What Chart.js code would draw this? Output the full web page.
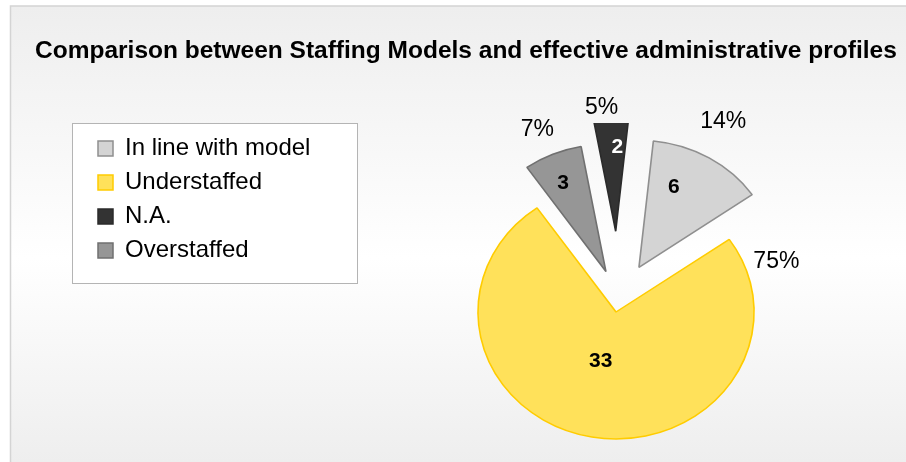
<!DOCTYPE html>
<html>
<head>
<meta charset="utf-8">
<title>Staffing Models</title>
<script src="https://cdn.jsdelivr.net/npm/chart.js@4.4.1/dist/chart.umd.min.js"></script>
<style>
  html, body { margin: 0; padding: 0; background: #fff; overflow: hidden; }
  canvas { display: block; }
</style>
</head>
<body>
<canvas id="graficoPerfiles" width="906" height="462"></canvas>
<script>
// slices in drawing order, clockwise from 12 o'clock
const categories = ['In line with model', 'Understaffed', 'Overstaffed', 'N.A.'];
const values = [6, 33, 3, 2];
// place of each category in the legend
const legendOrder = [0, 1, 3, 2];

const fillColors = ['#d4d4d4', '#ffe15a', '#969696', '#333333'];
const borderColors = ['#8f8f8f', '#ffcc00', '#707070', '#2b2b2b'];
const valueColors = ['#000', '#000', '#000', '#fff'];

// how far each slice is pulled out of the pie
const explode = [37, 13, 30, 68];
// labels measured from the tip of each slice: [distance, degrees clockwise from 12 o'clock]
const valuePos = [[86, 22], [51, 196], [97, -24], [84, 1]];
const percentPos = [[165, 28], [156, 71], [155, -24], [124, -6]];

const FONT = "'Liberation Sans', Arial, sans-serif";
const stretchX = 1.087;   // the pie is a bit wider than tall
const plotTop = 123;      // slices are cut off above this line
const legendShift = 53;   // legend column starts this far in from the title
const legendColWidth = 301;

function sliceTip(arc, i) {
    const mid = (arc.startAngle + arc.endAngle) / 2;
    return {
        x: arc.x + Math.cos(mid) * explode[i] * stretchX,
        y: arc.y + Math.sin(mid) * explode[i]
    };
}

// wider legend column so the pie sits further right, and move the items in
const legendLayout = {
    id: 'legendLayout',
    beforeInit(chart) {
        const fit = chart.legend.fit;
        chart.legend.fit = function () {
            fit.call(this);
            this.width = legendColWidth;
        };
    },
    afterLayout(chart) {
        chart.legend.left += legendShift;
        chart.legend.right += legendShift;
    }
};

const explodedPie = {
    id: 'explodedPie',
    beforeDraw(chart) {
        const ctx = chart.ctx;
        const w = chart.width, h = chart.height;
        ctx.save();
        ctx.fillStyle = '#fff';
        ctx.fillRect(0, 0, w, h);

        const grad = ctx.createLinearGradient(0, 7, 0, h);
        grad.addColorStop(0, '#eeeeee');
        grad.addColorStop(0.55, '#ffffff');
        grad.addColorStop(1, '#eeeeee');
        ctx.fillStyle = grad;
        ctx.fillRect(11, 6, w - 11, h - 6);

        ctx.strokeStyle = '#d4d4d4';
        ctx.lineWidth = 1.5;
        ctx.beginPath();
        ctx.moveTo(10.5, h);
        ctx.lineTo(10.5, 6);
        ctx.lineTo(w, 6);
        ctx.stroke();

        // white box behind the legend
        const boxes = chart.legend.legendHitBoxes;
        if (boxes && boxes.length) {
            const left = Math.round(boxes[0].left - 26);
            const top = Math.round(boxes[0].top - 14);
            const right = Math.round(Math.max(...boxes.map(b => b.left + b.width)) + 47);
            const bottom = Math.round(boxes[boxes.length - 1].top + boxes[boxes.length - 1].height + 20);
            ctx.fillStyle = '#fff';
            ctx.fillRect(left, top, right - left, bottom - top);
            ctx.strokeStyle = '#b4b4b4';
            ctx.lineWidth = 1;
            ctx.strokeRect(left + 0.5, top + 0.5, right - left, bottom - top);
        }
        ctx.restore();
    },
    beforeDatasetDraw(chart, args) {
        const ctx = chart.ctx;
        const arcs = args.meta.data;
        const cx = arcs[0].x, cy = arcs[0].y;
        ctx.save();
        ctx.beginPath();
        ctx.rect(11, plotTop, chart.width - 11, chart.height - plotTop);
        ctx.clip();
        ctx.translate(cx, cy);
        ctx.scale(stretchX, 1);
        ctx.translate(-cx, -cy);
        arcs.forEach((arc, i) => {
            const mid = (arc.startAngle + arc.endAngle) / 2;
            ctx.save();
            ctx.translate(Math.cos(mid) * explode[i], Math.sin(mid) * explode[i]);
            arc.draw(ctx);
            ctx.restore();
        });
        ctx.restore();
        return false;
    },
    afterDatasetsDraw(chart) {
        const ctx = chart.ctx;
        const arcs = chart.getDatasetMeta(0).data;
        const total = values.reduce((a, b) => a + b, 0);
        ctx.save();
        ctx.textAlign = 'center';
        ctx.textBaseline = 'middle';
        arcs.forEach((arc, i) => {
            const tip = sliceTip(arc, i);
            const at = p => {
                const a = p[1] * Math.PI / 180;
                return { x: tip.x + Math.sin(a) * p[0] * stretchX, y: tip.y - Math.cos(a) * p[0] };
            };
            const v = at(valuePos[i]);
            ctx.font = 'bold 21px ' + FONT;
            ctx.fillStyle = valueColors[i];
            ctx.fillText(String(values[i]), v.x, v.y);

            const p = at(percentPos[i]);
            ctx.font = '23px ' + FONT;
            ctx.fillStyle = '#000';
            ctx.fillText(Math.round(values[i] / total * 100) + '%', p.x, p.y);
        });
        ctx.restore();
    }
};

const ctx = document.getElementById('graficoPerfiles').getContext('2d');

const chartPerfiles = new Chart(ctx, {
    type: 'pie',
    data: {
        labels: categories,
        datasets: [{
            data: values,
            backgroundColor: fillColors,
            borderColor: borderColors,
            borderWidth: 1.5
        }]
    },
    options: {
        responsive: false,
        animation: false,
        events: [],
        rotation: 6,
        radius: 127,
        layout: { padding: { left: 35, right: 5, top: 0, bottom: 0 } },
        plugins: {
            title: {
                display: true,
                text: 'Comparison between Staffing Models and effective administrative profiles',
                align: 'start',
                color: '#000',
                font: { family: FONT, size: 24.5, weight: 'bold' },
                padding: { top: 37, bottom: 70 }
            },
            legend: {
                position: 'left',
                align: 'start',
                // empty title only pushes the items down
                title: { display: true, text: '', font: { size: 12, lineHeight: 1 }, padding: { top: 114.5, bottom: 0 } },
                labels: {
                    boxWidth: 15,
                    boxHeight: 15,
                    padding: 10,
                    color: '#000',
                    font: { family: FONT, size: 24 },
                    sort: (a, b) => legendOrder[a.index] - legendOrder[b.index]
                }
            },
            tooltip: { enabled: false }
        }
    },
    plugins: [legendLayout, explodedPie]
});
</script>
</body>
</html>
